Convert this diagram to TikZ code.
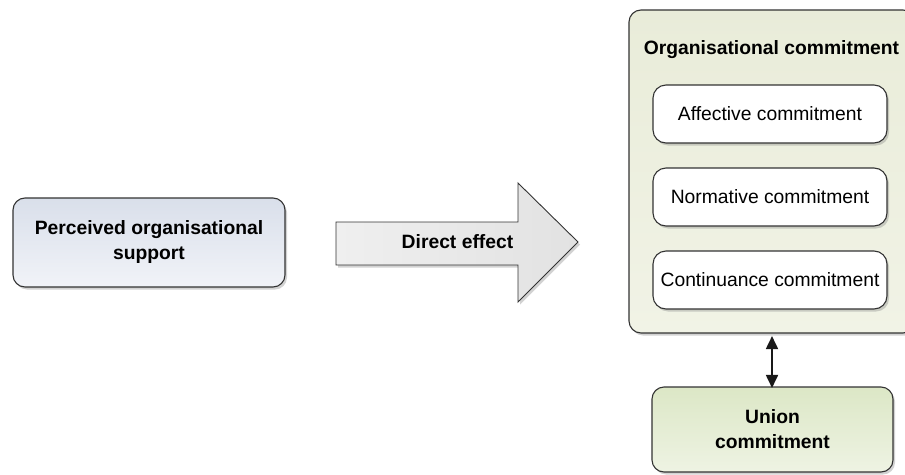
\documentclass[tikz,border=0pt]{standalone}
\usepackage{fontspec}
\setmainfont{Liberation Sans}
\usetikzlibrary{shadows,arrows.meta}

\definecolor{edgegray}{HTML}{333333}
\definecolor{posTop}{HTML}{D9DFEA}
\definecolor{posBot}{HTML}{F1F3F8}
\definecolor{ocTop}{HTML}{E9ECD9}
\definecolor{ocBot}{HTML}{F1F3E6}
\definecolor{unTop}{HTML}{DCE7C6}
\definecolor{unBot}{HTML}{EEF3E3}
\definecolor{arrTop}{HTML}{EFEFEF}
\definecolor{arrBot}{HTML}{E2E2E2}

\tikzset{
  shadowed/.style={drop shadow={opacity=0.35, shadow xshift=2pt, shadow yshift=-2.5pt}},
  roundbox/.style={draw=edgegray, line width=1.1pt, rounded corners=12pt, shadowed,
    align=center, inner sep=0pt},
  boldtext/.style={font=\bfseries\fontsize{19.3}{25}\selectfont},
  plaintext/.style={font=\fontsize{19.3}{25}\selectfont},
  linkarrow/.style={line width=1.8pt, black!90,
    {Triangle[length=13pt,width=12pt]}-{Triangle[length=13pt,width=12pt]}},
}

\begin{document}
\begin{tikzpicture}[x=1pt,y=-1pt]
  \clip (0,0) rectangle (905,474);
  \fill[white] (0,0) rectangle (905,474);

  % antecedent
  \node[roundbox, boldtext, top color=posTop, bottom color=posBot,
        minimum width=272pt, minimum height=89pt] (pos) at (149,242.5)
        {Perceived organisational\\support};

  % big block arrow
  \coordinate (a1) at (336,222);
  \coordinate (a2) at (518,222);
  \coordinate (a3) at (518,183);
  \coordinate (a4) at (578,242);
  \coordinate (a5) at (518,302);
  \coordinate (a6) at (518,265);
  \coordinate (a7) at (336,265);
  \path[draw=edgegray, line width=0.9pt, left color=arrTop, right color=arrBot, shadowed]
    (a1) -- (a2) -- (a3) -- (a4) -- (a5) -- (a6) -- (a7) -- cycle;
  \node[boldtext] (effect) at (457.5,242) {Direct effect};

  % organisational commitment container
  \node[roundbox, top color=ocTop, bottom color=ocBot,
        minimum width=286pt, minimum height=323pt] (oc) at (772,171.5) {};
  \node[boldtext] (octitle) at (771.5,50) {Organisational commitment};

  \node[roundbox, plaintext, fill=white, rounded corners=13pt,
        minimum width=234pt, minimum height=58pt] (aff) at (770,114) {Affective commitment};
  \node[roundbox, plaintext, fill=white, rounded corners=13pt,
        minimum width=234pt, minimum height=58pt] (norm) at (770,197) {Normative commitment};
  \node[roundbox, plaintext, fill=white, rounded corners=13pt,
        minimum width=234pt, minimum height=58pt] (cont) at (770,280) {Continuance commitment};

  % union commitment
  \node[roundbox, boldtext, top color=unTop, bottom color=unBot,
        minimum width=241pt, minimum height=85pt] (union) at (772.5,429.5)
        {Union\\commitment};

  \draw[linkarrow] (oc.south) ++(0,2.5) coordinate (ocb) -- ([yshift=-1.5pt]union.north -| ocb);
\end{tikzpicture}
\end{document}
